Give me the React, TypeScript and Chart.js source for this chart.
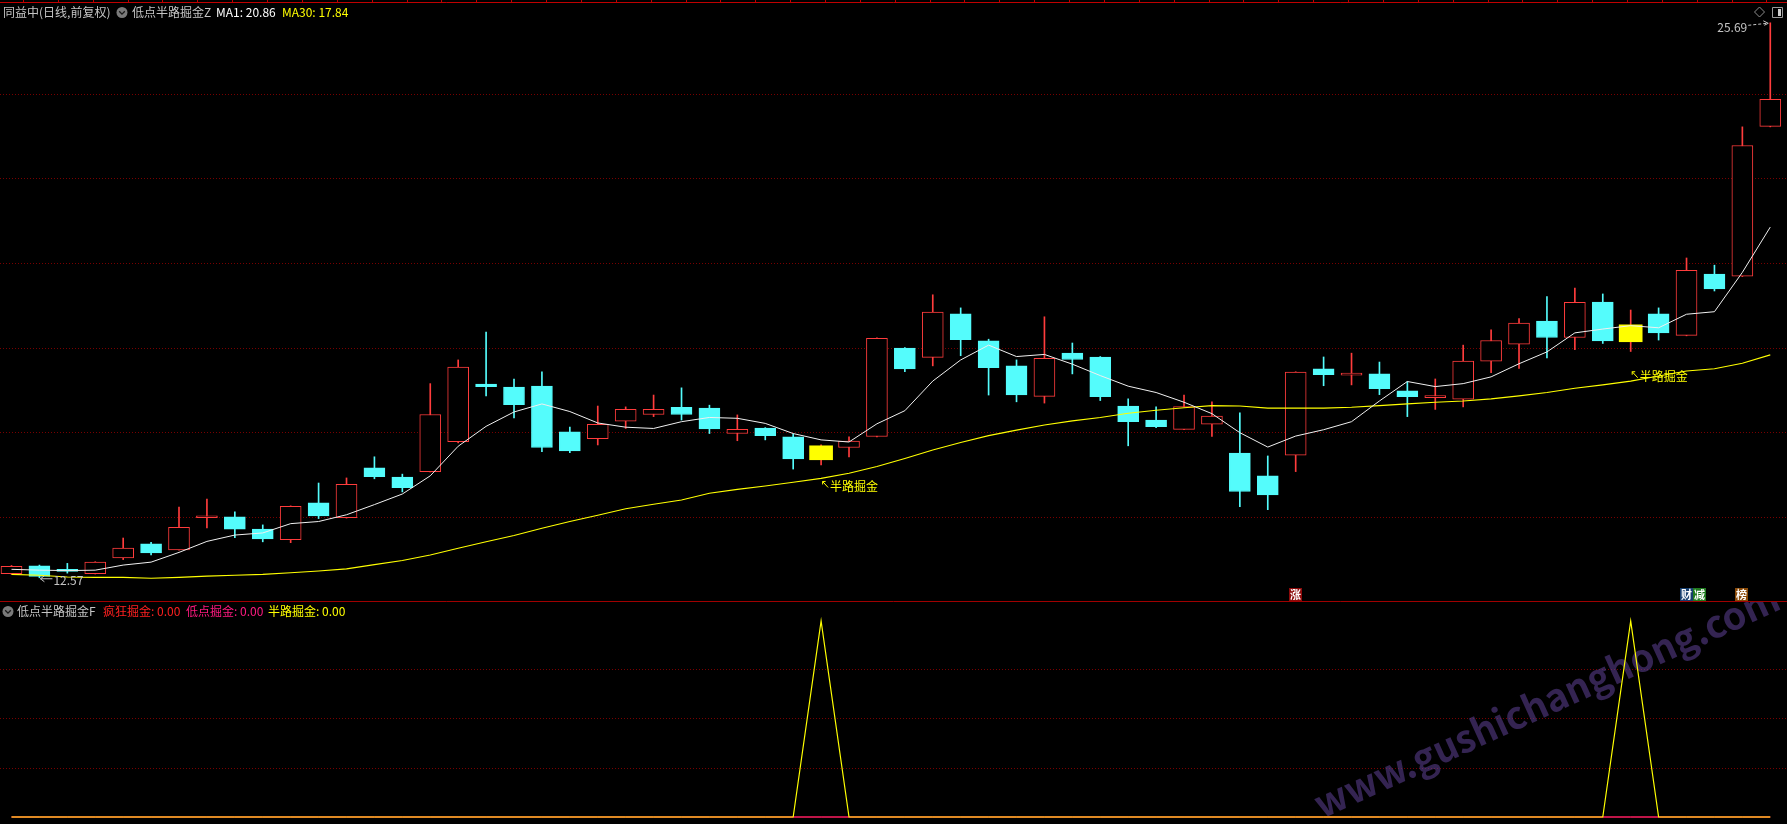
import React, { useEffect, useRef } from "react";
import { Chart, registerables } from "chart.js";

Chart.register(...registerables);

// ---------- data ----------
const opens = [
  12.67, 12.85, 12.76, 12.67, 13.04, 13.37, 13.23, 13.99, 14.01, 13.72,
  13.47, 14.34, 13.99, 15.17, 14.95, 15.08, 15.79, 17.15, 17.08, 17.10,
  16.02, 15.86, 16.27, 16.43, 16.60, 16.58, 15.98, 16.11, 15.90, 15.36,
  15.65, 15.91, 18.00, 17.78, 18.81, 18.17, 17.58, 16.86, 17.88, 17.79,
  16.63, 16.30, 16.08, 16.20, 15.52, 14.98, 15.47, 17.51, 17.36, 17.39,
  16.99, 16.83, 16.79, 17.69, 18.09, 18.64, 18.25, 19.09, 18.15, 18.81,
  18.30, 19.75, 19.70, 23.24,
];
const highs = [
  12.86, 12.87, 12.91, 12.95, 13.51, 13.41, 14.24, 14.43, 14.13, 13.82,
  14.27, 14.81, 14.93, 15.43, 15.02, 17.16, 17.72, 18.38, 17.27, 17.44,
  16.13, 16.63, 16.61, 16.89, 17.06, 16.65, 16.42, 16.12, 15.97, 15.71,
  15.90, 18.24, 18.01, 19.26, 18.95, 18.21, 17.72, 18.74, 18.12, 17.80,
  16.80, 16.61, 16.89, 16.73, 16.47, 15.45, 17.44, 17.79, 17.88, 17.67,
  17.21, 17.27, 18.07, 18.43, 18.70, 19.22, 19.42, 19.28, 18.90, 18.95,
  20.13, 19.96, 23.23, 25.69,
];
const lows = [
  12.65, 12.57, 12.68, 12.66, 13.00, 13.11, 13.22, 13.75, 13.52, 13.42,
  13.40, 13.97, 13.98, 14.91, 14.60, 15.07, 15.76, 16.87, 16.35, 15.55,
  15.53, 15.71, 16.10, 16.38, 16.30, 15.98, 15.81, 15.83, 15.14, 15.24,
  15.43, 15.90, 17.44, 17.58, 17.82, 16.89, 16.73, 16.70, 17.39, 16.76,
  15.69, 16.12, 16.07, 15.91, 14.25, 14.18, 15.08, 17.11, 17.13, 16.90,
  16.38, 16.55, 16.61, 17.42, 17.52, 17.77, 17.96, 18.11, 17.92, 18.19,
  18.29, 19.35, 19.69, 23.23,
];
const closes = [
  12.84, 12.60, 12.72, 12.94, 13.27, 13.16, 13.76, 14.00, 13.72, 13.49,
  14.26, 14.03, 14.78, 14.96, 14.70, 16.43, 17.55, 17.09, 16.66, 15.65,
  15.57, 16.20, 16.55, 16.55, 16.43, 16.09, 16.08, 15.93, 15.38, 15.69,
  15.80, 18.23, 17.51, 18.85, 18.20, 17.54, 16.89, 17.76, 17.73, 16.85,
  16.26, 16.14, 16.62, 16.39, 14.61, 14.53, 17.43, 17.37, 17.37, 17.04,
  16.85, 16.84, 17.69, 18.18, 18.59, 18.25, 19.08, 18.17, 18.55, 18.36,
  19.84, 19.40, 22.79, 23.88,
];
// MA1 (white) line
const ma1 = [
  12.77, 12.75, 12.74, 12.75, 12.87, 12.94, 13.17, 13.43, 13.58, 13.63,
  13.85, 13.90, 14.06, 14.30, 14.55, 14.98, 15.68, 16.15, 16.49, 16.68,
  16.50, 16.23, 16.13, 16.10, 16.26, 16.36, 16.34, 16.22, 15.98, 15.83,
  15.78, 16.21, 16.52, 17.22, 17.72, 18.07, 17.80, 17.85, 17.62, 17.35,
  17.10, 16.95, 16.72, 16.45, 16.00, 15.66, 15.92, 16.07, 16.26, 16.75,
  17.21, 17.09, 17.16, 17.32, 17.63, 17.91, 18.36, 18.45, 18.53, 18.48,
  18.80, 18.86, 19.79, 20.86,
];
// MA30 (yellow) line
const ma30 = [
  12.65, 12.63, 12.59, 12.58, 12.58, 12.56, 12.58, 12.61, 12.63, 12.65,
  12.69, 12.73, 12.78, 12.88, 12.98, 13.11, 13.27, 13.42, 13.57, 13.74,
  13.90, 14.05, 14.20, 14.31, 14.41, 14.57, 14.66, 14.74, 14.83, 14.92,
  15.04, 15.20, 15.39, 15.59, 15.77, 15.93, 16.06, 16.18, 16.28, 16.36,
  16.46, 16.53, 16.59, 16.64, 16.63, 16.58, 16.58, 16.58, 16.60, 16.64,
  16.68, 16.72, 16.75, 16.80, 16.87, 16.95, 17.05, 17.13, 17.22, 17.34,
  17.46, 17.51, 17.64, 17.84,
];
// sub-panel signals
const crazyGold = [
  0, 0, 0, 0, 0, 0, 0, 0, 0, 0, 0, 0, 0, 0, 0, 0, 0, 0, 0, 0, 0, 0, 0, 0, 0, 0, 0, 0, 0, 0, 0, 0,
  0, 0, 0, 0, 0, 0, 0, 0, 0, 0, 0, 0, 0, 0, 0, 0, 0, 0, 0, 0, 0, 0, 0, 0, 0, 0, 0, 0, 0, 0, 0, 0,
];
const lowGold = [
  0, 0, 0, 0, 0, 0, 0, 0, 0, 0, 0, 0, 0, 0, 0, 0, 0, 0, 0, 0, 0, 0, 0, 0, 0, 0, 0, 0, 0, 0, 0, 0,
  0, 0, 0, 0, 0, 0, 0, 0, 0, 0, 0, 0, 0, 0, 0, 0, 0, 0, 0, 0, 0, 0, 0, 0, 0, 0, 0, 0, 0, 0, 0, 0,
];
const halfwayGold = [
  0, 0, 0, 0, 0, 0, 0, 0, 0, 0, 0, 0, 0, 0, 0, 0, 0, 0, 0, 0, 0, 0, 0, 0, 0, 0, 0, 0, 0, 1, 0, 0,
  0, 0, 0, 0, 0, 0, 0, 0, 0, 0, 0, 0, 0, 0, 0, 0, 0, 0, 0, 0, 0, 0, 0, 0, 0, 0, 1, 0, 0, 0, 0, 0,
];
const mainGridPrices = [14, 16, 18, 20, 22, 24];
const subGridValues = [0.25, 0.5, 0.75];
const eventIndex = [46, 60, 60, 62];
const eventText = ["涨", "财", "减", "榜"];
const eventColor = ["#8c0a0a", "#163e6e", "#1f7a1f", "#8a4a08"];

const headerMain = { name: "同益中(日线,前复权)", ind: "低点半路掘金Z", ma1: "MA1: 20.86", ma30: "MA30: 17.84" };
const headerSub = { ind: "低点半路掘金F", a: "疯狂掘金: 0.00", b: "低点掘金: 0.00", c: "半路掘金: 0.00" };
const highLabel = "25.69";
const lowLabel = "12.57";
const signalText = "半路掘金";
const watermark = "www.gushichanghong.com";

// ---------- styles ----------
const RED = "#ff3c3c";
const CYAN = "#54fcfc";
const YELLOW = "#ffff00";
const GRID = "#780000";
const BORDER = "#c00000";
const GRAY = "#c4c4c4";
const CJK = '"Noto Sans CJK SC", "Noto Sans", sans-serif';

const W = 1787;
const MAIN_H = 601;
const SUB_H = 223;
const X_MIN = -0.412;
const X_MAX = 63.599;

const idx = opens.map((_, i) => i);
const isUp = (i: number) => closes[i] >= opens[i];

function drawIcon(ctx: CanvasRenderingContext2D, cx: number, cy: number) {
  ctx.save();
  ctx.fillStyle = "#7a7a7a";
  ctx.beginPath();
  ctx.arc(cx, cy, 5.5, 0, Math.PI * 2);
  ctx.fill();
  ctx.strokeStyle = "#1a1a1a";
  ctx.lineWidth = 1.3;
  ctx.beginPath();
  ctx.moveTo(cx - 2.8, cy - 1.2);
  ctx.lineTo(cx, cy + 1.6);
  ctx.lineTo(cx + 2.8, cy - 1.2);
  ctx.stroke();
  ctx.restore();
}

const mainOverlay = {
  id: "mainOverlay",
  afterDraw(chart: any) {
    const ctx: CanvasRenderingContext2D = chart.ctx;
    const xs = chart.scales.x;
    const ys = chart.scales.y;
    ctx.save();
    // top frame line and ruler ticks
    ctx.strokeStyle = BORDER;
    ctx.lineWidth = 1;
    ctx.beginPath();
    ctx.moveTo(0, 2.5);
    ctx.lineTo(W, 2.5);
    ctx.stroke();
    ctx.beginPath();
    for (let t = 23; t < W; t += 34.87) {
      ctx.moveTo(Math.round(t) + 0.5, 0);
      ctx.lineTo(Math.round(t) + 0.5, 2.5);
    }
    ctx.stroke();

    // header
    ctx.textBaseline = "middle";
    ctx.font = `12px ${CJK}`;
    ctx.fillStyle = GRAY;
    ctx.fillText(headerMain.name, 3, 12.5);
    drawIcon(ctx, 122, 12.5);
    ctx.fillStyle = GRAY;
    ctx.fillText(headerMain.ind, 132, 12.5);
    ctx.fillStyle = "#ffffff";
    ctx.fillText(headerMain.ma1, 216, 12.5);
    ctx.fillStyle = YELLOW;
    ctx.fillText(headerMain.ma30, 282, 12.5);

    // right-top icons
    ctx.strokeStyle = "#8c8c8c";
    ctx.lineWidth = 1;
    ctx.beginPath();
    ctx.moveTo(1759.5, 7);
    ctx.lineTo(1764.5, 12);
    ctx.lineTo(1759.5, 17);
    ctx.lineTo(1754.5, 12);
    ctx.closePath();
    ctx.stroke();
    ctx.strokeStyle = "#9a9a9a";
    ctx.beginPath();
    ctx.rect(1772.5, 7.5, 10, 10);
    ctx.stroke();
    ctx.fillStyle = "#cfcfcf";
    ctx.fillRect(1778, 9, 3, 7);

    // high label
    const hx = xs.getPixelForValue(63);
    const hy = ys.getPixelForValue(highs[63]);
    ctx.font = `12px ${CJK}`;
    ctx.fillStyle = GRAY;
    ctx.strokeStyle = GRAY;
    ctx.textAlign = "right";
    ctx.fillText(highLabel, hx - 23, hy + 4.5);
    ctx.setLineDash([3, 2]);
    ctx.beginPath();
    ctx.moveTo(hx - 22, hy + 2.5);
    ctx.lineTo(hx - 3, hy + 0.5);
    ctx.stroke();
    ctx.setLineDash([]);
    ctx.beginPath();
    ctx.moveTo(hx - 7, hy - 2);
    ctx.lineTo(hx - 2, hy + 0.5);
    ctx.lineTo(hx - 6, hy + 2.5);
    ctx.stroke();

    // low label
    const lx = xs.getPixelForValue(1);
    const ly = ys.getPixelForValue(lows[1]) + 1;
    ctx.textAlign = "left";
    ctx.beginPath();
    ctx.moveTo(lx + 1, ly);
    ctx.lineTo(lx + 13, ly);
    ctx.moveTo(lx + 5, ly - 3);
    ctx.lineTo(lx + 1, ly);
    ctx.lineTo(lx + 5, ly + 3);
    ctx.stroke();
    ctx.fillText(lowLabel, lx + 14, ly + 2);

    // signal labels
    ctx.font = `12px ${CJK}`;
    ctx.fillStyle = YELLOW;
    ctx.strokeStyle = YELLOW;
    idx.forEach((i) => {
      if (!halfwayGold[i]) return;
      const sx = xs.getPixelForValue(i);
      const sy = ys.getPixelForValue(lows[i] * 0.968);
      ctx.beginPath();
      ctx.moveTo(sx + 7, sy + 2);
      ctx.lineTo(sx + 1.5, sy - 4);
      ctx.moveTo(sx + 1.5, sy - 4);
      ctx.lineTo(sx + 1.5, sy - 1);
      ctx.moveTo(sx + 1.5, sy - 4);
      ctx.lineTo(sx + 4.5, sy - 4);
      ctx.stroke();
      ctx.fillText(signalText, sx + 9, sy + 0.5);
    });

    // event markers
    ctx.font = `bold 11px ${CJK}`;
    ctx.textAlign = "center";
    let prevIdx = -1;
    let slot = 0;
    eventIndex.forEach((p, k) => {
      slot = p === prevIdx ? slot + 1 : 0;
      prevIdx = p;
      const left = Math.round(xs.getPixelForValue(p) - 7) + slot * 13;
      ctx.fillStyle = eventColor[k];
      ctx.fillRect(left, 588, 13, 13);
      ctx.fillStyle = "#ffffff";
      ctx.fillText(eventText[k], left + 6.5, 595);
    });
    ctx.restore();
  },
};

const subOverlay = {
  id: "subOverlay",
  beforeDatasetsDraw(chart: any) {
    const ctx: CanvasRenderingContext2D = chart.ctx;
    ctx.save();
    ctx.translate(1322, 218);
    ctx.rotate(-0.4285);
    ctx.font = `bold 40px ${CJK}`;
    const size = (40 * 507) / ctx.measureText(watermark).width;
    ctx.font = `bold ${size.toFixed(1)}px ${CJK}`;
    ctx.fillStyle = "rgba(95, 65, 150, 0.55)";
    ctx.textBaseline = "alphabetic";
    ctx.fillText(watermark, 0, 0);
    ctx.restore();
  },
  afterDraw(chart: any) {
    const ctx: CanvasRenderingContext2D = chart.ctx;
    ctx.save();
    ctx.strokeStyle = "#a00000";
    ctx.lineWidth = 1;
    ctx.beginPath();
    ctx.moveTo(0, 0.5);
    ctx.lineTo(W, 0.5);
    ctx.stroke();

    ctx.textBaseline = "middle";
    ctx.font = `12px ${CJK}`;
    drawIcon(ctx, 8, 10.5);
    ctx.fillStyle = GRAY;
    ctx.fillText(headerSub.ind, 17, 10.5);
    ctx.fillStyle = "#ff2020";
    ctx.fillText(headerSub.a, 103, 10.5);
    ctx.fillStyle = "#ff1a80";
    ctx.fillText(headerSub.b, 186, 10.5);
    ctx.fillStyle = YELLOW;
    ctx.fillText(headerSub.c, 268, 10.5);
    ctx.restore();
  },
};

export default function App() {
  const mainRef = useRef<HTMLCanvasElement>(null);
  const subRef = useRef<HTMLCanvasElement>(null);

  useEffect(() => {
    document.body.style.margin = "0";
    document.body.style.background = "#000";

    const main = new Chart(mainRef.current as HTMLCanvasElement, {
      type: "bar",
      data: {
        datasets: [
          {
            type: "line",
            label: "MA1",
            data: idx.map((i) => ({ x: i, y: ma1[i] })),
            borderColor: "#f0f0f0",
            borderWidth: 1,
            pointRadius: 0,
            tension: 0,
            order: 1,
          } as any,
          {
            type: "line",
            label: "MA30",
            data: idx.map((i) => ({ x: i, y: ma30[i] })),
            borderColor: YELLOW,
            borderWidth: 1.1,
            pointRadius: 0,
            tension: 0,
            order: 2,
          } as any,
          {
            type: "bar",
            label: "signal",
            data: idx.map((i) => ({ x: i, y: halfwayGold[i] ? [opens[i], closes[i]] : null })),
            backgroundColor: YELLOW,
            borderWidth: 0,
            barThickness: 23,
            grouped: false,
            order: 3,
          } as any,
          {
            type: "bar",
            label: "body",
            data: idx.map((i) => ({ x: i, y: halfwayGold[i] ? null : [opens[i], closes[i]] })),
            backgroundColor: idx.map((i) => (isUp(i) ? "#000000" : CYAN)),
            borderColor: idx.map((i) => (isUp(i) ? RED : CYAN)),
            borderWidth: 1,
            borderSkipped: false,
            barThickness: 21,
            minBarLength: 2,
            grouped: false,
            order: 4,
          } as any,
          {
            type: "bar",
            label: "wick",
            data: idx.map((i) => ({ x: i, y: [lows[i], highs[i]] })),
            backgroundColor: idx.map((i) => (isUp(i) ? RED : CYAN)),
            borderWidth: 0,
            barThickness: 1,
            grouped: false,
            order: 5,
          } as any,
        ],
      },
      options: {
        responsive: false,
        animation: false,
        devicePixelRatio: 1,
        events: [],
        layout: { padding: 0 },
        plugins: { legend: { display: false }, tooltip: { enabled: false } },
        scales: {
          x: { type: "linear", min: X_MIN, max: X_MAX, display: false, offset: false },
          y: {
            type: "linear",
            min: 12.021,
            max: 26.229,
            afterBuildTicks: (s: any) => {
              s.ticks = mainGridPrices.map((v) => ({ value: v }));
            },
            ticks: { display: false },
            grid: { color: GRID, lineWidth: 1, drawTicks: false },
            border: { display: false, dash: [1, 2] },
          },
        },
      } as any,
      plugins: [mainOverlay],
    });

    const sub = new Chart(subRef.current as HTMLCanvasElement, {
      type: "line",
      data: {
        datasets: [
          {
            label: "疯狂掘金",
            data: idx.map((i) => ({ x: i, y: crazyGold[i] })),
            borderColor: "#ff2020",
            borderWidth: 1,
            pointRadius: 0,
            order: 3,
          },
          {
            label: "低点掘金",
            data: idx.map((i) => ({ x: i, y: lowGold[i] })),
            borderColor: "#ff1a80",
            borderWidth: 1,
            pointRadius: 0,
            order: 2,
          },
          {
            label: "半路掘金",
            data: idx.map((i) => ({ x: i, y: halfwayGold[i] })),
            borderColor: YELLOW,
            borderWidth: 1.2,
            pointRadius: 0,
            order: 1,
          },
        ],
      },
      options: {
        responsive: false,
        animation: false,
        devicePixelRatio: 1,
        events: [],
        layout: { padding: 0 },
        plugins: { legend: { display: false }, tooltip: { enabled: false } },
        scales: {
          x: { type: "linear", min: X_MIN, max: X_MAX, display: false, offset: false },
          y: {
            type: "linear",
            min: -0.0357,
            max: 1.102,
            afterBuildTicks: (s: any) => {
              s.ticks = subGridValues.map((v) => ({ value: v }));
            },
            ticks: { display: false },
            grid: { color: GRID, lineWidth: 1, drawTicks: false },
            border: { display: false, dash: [1, 2] },
          },
        },
      } as any,
      plugins: [subOverlay],
    });

    return () => {
      main.destroy();
      sub.destroy();
    };
  }, []);

  return (
    <div style={{ position: "fixed", left: 0, top: 0, width: W, height: MAIN_H + SUB_H, background: "#000" }}>
      <canvas
        ref={mainRef}
        width={W}
        height={MAIN_H}
        style={{ position: "absolute", left: 0, top: 0, width: W, height: MAIN_H }}
      />
      <canvas
        ref={subRef}
        width={W}
        height={SUB_H}
        style={{ position: "absolute", left: 0, top: MAIN_H, width: W, height: SUB_H }}
      />
    </div>
  );
}
